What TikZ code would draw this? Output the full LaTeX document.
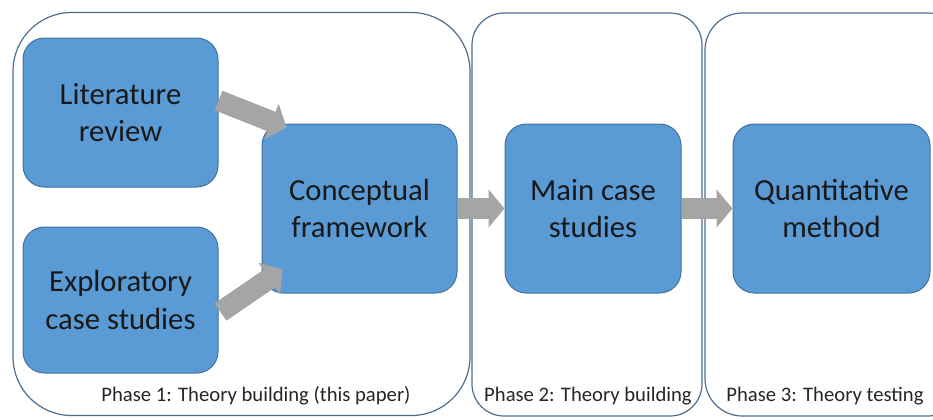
\documentclass[tikz,border=0pt]{standalone}
\usepackage{fontspec}
\setmainfont{Carlito}
\usetikzlibrary{positioning,calc,arrows.meta}

\definecolor{boxblue}{HTML}{5B9BD5}
\definecolor{boxedge}{HTML}{41719C}
\definecolor{arrowgray}{HTML}{A5A5A5}
\definecolor{phaseedge}{HTML}{4E6E8E}

\begin{document}
\begin{tikzpicture}[x=0.75pt, y=-0.75pt,
    phase/.style={draw=phaseedge, line width=0.9pt, fill=white, inner sep=0pt, minimum height=302.25pt},
    phasetext/.style={font=\fontsize{15.5}{18}\selectfont, text=black!85, inner sep=0pt},
    stage/.style={draw=boxedge, line width=0.75pt, fill=boxblue, rounded corners=16pt, inner sep=0pt, align=center, font=\fontsize{23}{28}\selectfont, text=black!90},
    flow/.style={draw=arrowgray, line width=15.75pt, -{Triangle[length=12pt, width=28pt]}}]
    % \draw[help lines](0,0) grid (933,419);

    \clip (0,0) rectangle (933,419);

    % phase frames
    \node[phase, rounded corners=44pt, minimum width=342.75pt] (phaseA) at (241.5,214) {};
    \node[phase, rounded corners=24pt, minimum width=172.5pt] (phaseB) at (587,214.5) {};
    \node[phase, rounded corners=28pt, minimum width=195pt] (phaseC) at (835,214.5) {};

    % phase captions
    \node[phasetext] (capA) at (256,396) {Phase 1: Theory building (this paper)};
    \node[phasetext] (capB) at (588,396) {Phase 2: Theory building};
    \node[phasetext] (capC) at (825,396) {Phase 3: Theory testing};

    % phase 1 boxes
    \node[stage, minimum width=146.25pt, minimum height=111.75pt] (litrev) at (120.5,112.5) {Literature\\review};
    \node[stage, minimum width=146.25pt, minimum height=109.5pt] (explor) at (120.5,300) {Exploratory\\case studies};
    \node[stage, minimum width=146.25pt, minimum height=126.75pt] (concept) at (359.5,208.5) {Conceptual\\framework};

    % phase 2 and 3 boxes
    \node[stage, minimum width=132pt, minimum height=126.75pt] (mainCase) at (593,208.5) {Main case\\studies};
    \node[stage, minimum width=147.75pt, minimum height=126.75pt] (quant) at (831.5,208.5) {Quantitative\\method};

    % arrows
    \draw[flow] ($(litrev.east)+(0,-12)$) -- ($(concept.north west)+(25,4)$);
    \draw[flow] ($(explor.east)+(2,12)$) -- ($(concept.south west)+(21,-24)$);
    \draw[flow] (concept) -- (mainCase);
    \draw[flow] (mainCase) -- (quant);

\end{tikzpicture}
\end{document}
